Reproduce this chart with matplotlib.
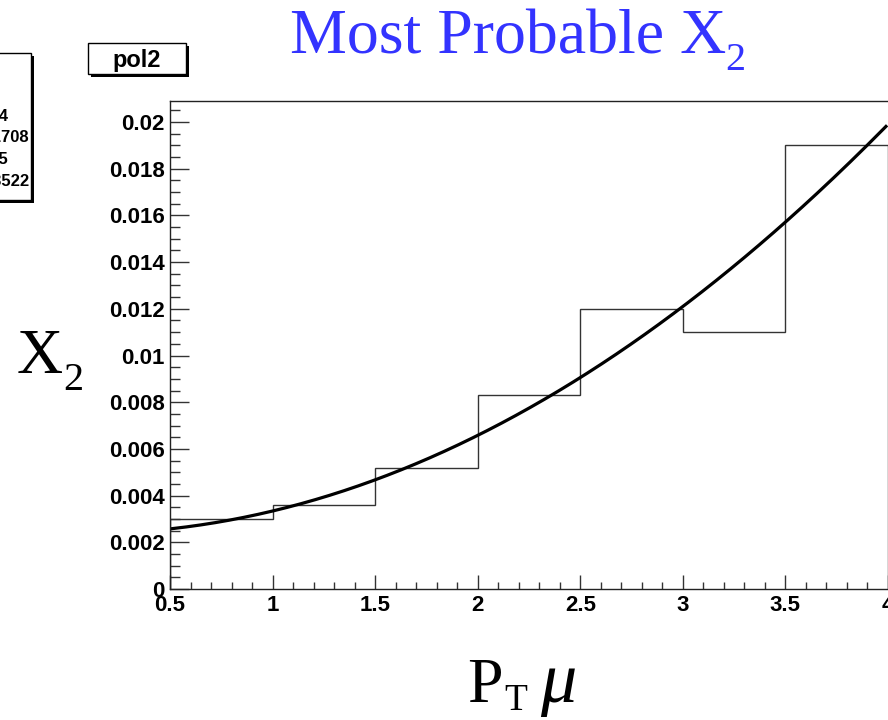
import matplotlib
matplotlib.use("Agg")
import matplotlib.pyplot as plt
from matplotlib.patches import Rectangle
import numpy as np

# histogram contents (bins of 0.5 in P_T)
bin_edges = [0.5, 1.0, 1.5, 2.0, 2.5, 3.0, 3.5, 4.0]
x2_values = [0.0030, 0.0036, 0.0052, 0.0083, 0.0120, 0.0110, 0.0190]

# pol2 fit parameters
fit_p0 = 0.00238
fit_p1 = -0.00018
fit_p2 = 0.00114
fit_range = (0.51, 3.99)

xtick_vals = [0.5, 1.0, 1.5, 2.0, 2.5, 3.0, 3.5, 4.0]
xtick_labels = ["0.5", "1", "1.5", "2", "2.5", "3", "3.5", "4"]
ytick_vals = [0.0, 0.002, 0.004, 0.006, 0.008, 0.010, 0.012, 0.014, 0.016, 0.018, 0.020]
ytick_labels = ["0", "0.002", "0.004", "0.006", "0.008", "0.01", "0.012",
                "0.014", "0.016", "0.018", "0.02"]

# partially visible stats box rows (left part is off the canvas)
stat_rows = ["\u03c7\u00b2 / ndf   1.1e-06 / 4",
             "p0     0.002386 \u00b1 0.001708",
             "p1     -0.000185 \u00b1 0.0015",
             "p2     0.001142 \u00b1 0.0003522"]
stat_row_right = [8, 29, 8, 29]   # right edge of each row, px

W, H = 888, 720
fig = plt.figure(figsize=(W / 100, H / 100), dpi=100)
renderer = fig.canvas.get_renderer()

# axes: x=0.5 at px 170, x=4 at px 888; y=0 at px 589, top at px 101
ax = fig.add_axes([170 / W, (H - 589) / H, 719 / W, (589 - 101) / H])

ax.stairs(x2_values, bin_edges, color="#333333", linewidth=1.0)

xf = np.linspace(fit_range[0], fit_range[1], 300)
yf = fit_p0 + fit_p1 * xf + fit_p2 * xf ** 2
ax.plot(xf, yf, color="black", linewidth=2.3)

ax.set_xlim(0.5, 4.0 + 1 / 205.6)
ax.set_ylim(0, 0.0209)

tick_font = dict(family="Liberation Sans", weight="bold", size=16)
ax.set_xticks(xtick_vals)
ax.set_xticklabels(xtick_labels, fontdict=tick_font)
ax.set_yticks(ytick_vals)
ax.set_yticklabels(ytick_labels, fontdict=tick_font)
ax.set_xticks(np.arange(0.6, 4.0, 0.1), minor=True)
ax.set_yticks(np.arange(0.0005, 0.0209, 0.0005), minor=True)

ax.tick_params(axis="x", which="major", direction="in", length=10, width=1, pad=4, color="#333333")
ax.tick_params(axis="x", which="minor", direction="in", length=5, width=1, color="#333333")
ax.tick_params(axis="y", which="major", direction="in", length=14, width=1, pad=4, color="#333333")
ax.tick_params(axis="y", which="minor", direction="in", length=7, width=1, color="#333333")
for s in ax.spines.values():
    s.set_linewidth(1.0)
    s.set_color("#222222")


def put(x, y, s, size, color="black", style="normal"):
    # text at pixel position (left, baseline), returns its right edge in px
    t = fig.text(x / W, 1 - y / H, s, color=color, family="Liberation Serif",
                 fontsize=size, style=style, ha="left", va="baseline")
    return t.get_window_extent(renderer).x1


# title and axis titles, ROOT style with big low subscripts
end = put(290, 53, "Most Probable X", 46, color="#3333ff")
put(end - 1, 70, "2", 29, color="#3333ff")

end = put(17, 373, "X", 46)
put(end, 390, "2", 29)

end = put(467, 702, "P", 46)
end = put(end + 2, 710, "T", 27)
put(end + 13, 702, "\u03bc", 52, style="italic")


def shadow_box(x0, y0, x1, y1, shadow=3):
    # ROOT-like pave with drop shadow, coordinates in pixels from top-left
    sh = Rectangle(((x0 + shadow) / W, 1 - (y1 + shadow) / H),
                   (x1 - x0) / W, (y1 - y0) / H,
                   transform=fig.transFigure, facecolor="black",
                   edgecolor="black", linewidth=0)
    fig.add_artist(sh)
    bx = Rectangle((x0 / W, 1 - y1 / H), (x1 - x0) / W, (y1 - y0) / H,
                   transform=fig.transFigure, facecolor="white",
                   edgecolor="black", linewidth=1.0)
    fig.add_artist(bx)


shadow_box(88, 43, 186, 74)
fig.text(137 / W, 1 - 67 / H, "pol2", family="Liberation Sans", weight="bold",
         fontsize=17, ha="center", va="baseline")

shadow_box(-300, 53, 31, 200)
for i, row in enumerate(stat_rows):
    fig.text(stat_row_right[i] / W, 1 - (116 + 21.7 * i) / H, row,
             family="Liberation Sans", weight="bold", fontsize=12,
             ha="right", va="center")

fig.savefig("out.png", dpi=100)
